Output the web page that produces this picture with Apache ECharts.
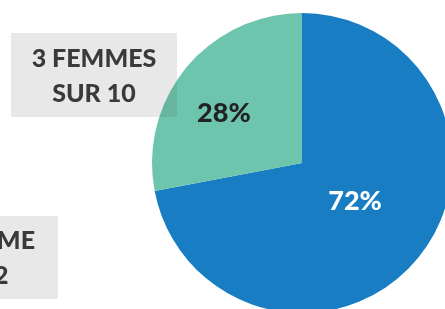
<!DOCTYPE html>
<html>
<head>
<meta charset="utf-8">
<script src="https://cdn.jsdelivr.net/npm/echarts@6/dist/echarts.min.js"></script>
<style>
  html, body { margin: 0; padding: 0; background: #fff; }
  #chart { width: 445px; height: 309px; }
</style>
</head>
<body>
<div id="chart"></div>
<script>
// chart data
var sliceNames = ['Autres', 'Femmes']
var sliceValues = [72, 28]
var sliceColors = ['#187dc3', '#6cc5ac']
var calloutTop = ['3 FEMMES', 'SUR 10']
var calloutBottom = ['1 HOMME', 'SUR 2']

var chart = echarts.init(document.getElementById('chart'))

var boxFont = '900 25px Lato'

chart.setOption({
  animation: false,
  series: [{
    type: 'pie',
    center: [302, 163],
    radius: [0, 150],
    startAngle: 90,
    clockwise: true,
    z: 1,
    data: sliceValues.map(function (v, i) {
      return {
        name: sliceNames[i],
        value: v,
        itemStyle: { color: sliceColors[i] },
        label: i === 0
          ? { color: '#fff', offset: [-7, -11] }
          : { color: '#222', offset: [-18, 0] }
      }
    }),
    label: {
      show: true,
      position: 'inside',
      formatter: '{c}%',
      fontFamily: 'Lato',
      fontWeight: 900,
      fontSize: 27
    },
    labelLine: { show: false },
    itemStyle: { borderWidth: 0 },
    emphasis: { disabled: true }
  }],
  graphic: [
    {
      type: 'rect', z: 10,
      shape: { x: 11, y: 33, width: 166, height: 84 },
      style: { fill: 'rgba(70,80,70,0.13)' }
    },
    {
      type: 'text', z: 11,
      style: {
        x: 94, y: 41,
        text: calloutTop.join('\n'), font: boxFont, fill: '#3a3a3a',
        align: 'center', lineHeight: 35
      }
    },
    {
      type: 'rect', z: 10,
      shape: { x: -110, y: 216, width: 168, height: 83 },
      style: { fill: 'rgba(70,80,70,0.13)' }
    },
    {
      type: 'text', z: 11,
      style: {
        x: -26, y: 223,
        text: calloutBottom.join('\n'), font: boxFont, fill: '#3a3a3a',
        align: 'center', lineHeight: 35
      }
    }
  ]
})
</script>
</body>
</html>
